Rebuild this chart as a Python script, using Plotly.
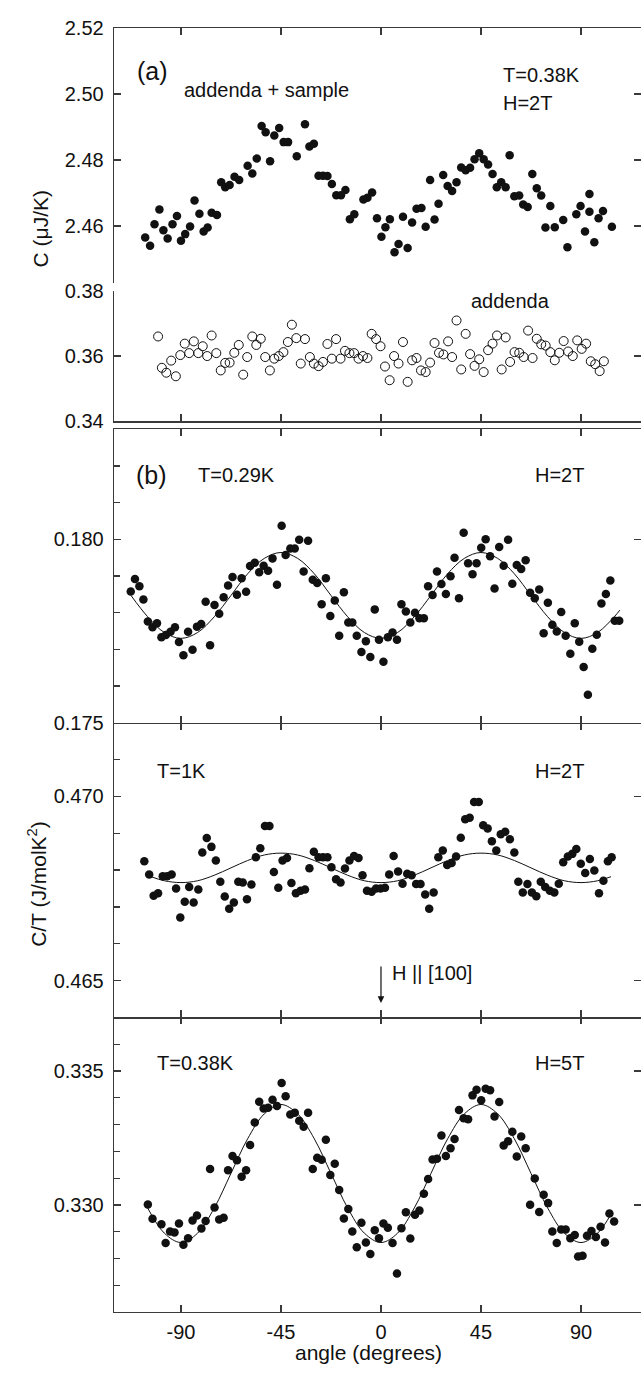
import plotly.graph_objects as go

W, H = 641, 1379

# ---------------- data ----------------
# (a) addenda + sample, T=0.38K, H=2T   [C in uJ/K]
a_sample_angle = [
    -106.1, -103.9, -101.9, -99.7, -97.9, -96.0, -93.8, -91.8, -90.0, -88.1,
    -85.9, -83.9, -81.7, -79.8, -78.0, -76.2, -73.8, -71.9, -70.1, -68.1,
    -65.9, -63.8, -60.0, -57.9, -55.9, -53.7, -51.9, -49.9, -48.0, -45.8,
    -43.8, -41.8, -37.9, -34.2, -32.2, -30.2, -28.1, -26.1, -24.1, -22.1,
    -20.1, -18.0, -16.0, -14.0, -12.0, -7.9, -6.1, -4.0, -1.8, 0.2,
    2.0, 4.0, 6.1, 7.9, 9.9, 12.0, 14.0, 16.0, 18.2, 20.1,
    22.1, 24.1, 25.9, 28.0, 30.0, 32.0, 34.0, 36.1, 38.1, 40.1,
    42.1, 44.2, 46.2, 48.2, 50.2, 52.1, 54.1, 56.1, 57.9, 60.0,
    62.2, 64.0, 66.0, 68.1, 70.1, 72.1, 74.0, 76.2, 78.2, 82.0,
    83.9, 87.9, 89.8, 91.8, 93.8, 93.8, 96.0, 97.9, 99.9, 103.9]
a_sample_c = [
    2.4565, 2.4540, 2.4605, 2.4650, 2.4587, 2.4562, 2.4605, 2.4630, 2.4555, 2.4575,
    2.4598, 2.4677, 2.4637, 2.4583, 2.4595, 2.4640, 2.4633, 2.4732, 2.4717, 2.4724,
    2.4749, 2.4739, 2.4782, 2.4759, 2.4804, 2.4903, 2.4884, 2.4796, 2.4874, 2.4897,
    2.4854, 2.4854, 2.4811, 2.4908, 2.4841, 2.4849, 2.4752, 2.4752, 2.4751, 2.4727,
    2.4693, 2.4693, 2.4709, 2.4620, 2.4635, 2.4680, 2.4685, 2.4701, 2.4623, 2.4567,
    2.4596, 2.4620, 2.4520, 2.4545, 2.4628, 2.4533, 2.4610, 2.4652, 2.4654, 2.4597,
    2.4739, 2.4619, 2.4667, 2.4754, 2.4721, 2.4706, 2.4732, 2.4777, 2.4769, 2.4776,
    2.4802, 2.4820, 2.4802, 2.4786, 2.4757, 2.4717, 2.4732, 2.4717, 2.4814, 2.4690,
    2.4692, 2.4665, 2.4657, 2.4757, 2.4714, 2.4692, 2.4595, 2.4660, 2.4596, 2.4618,
    2.4535, 2.4635, 2.4660, 2.4583, 2.4697, 2.4643, 2.4550, 2.4623, 2.4645, 2.4597]

# (a) addenda only
a_addenda_angle = [
    -100.3, -98.6, -96.6, -94.4, -92.3, -90.3, -88.3, -86.3, -84.2, -82.2,
    -80.2, -78.2, -76.2, -74.1, -72.1, -70.1, -68.1, -66.0, -64.0, -62.0,
    -60.2, -57.9, -56.1, -54.1, -52.1, -50.0, -48.0, -46.0, -43.9, -41.9,
    -40.1, -38.1, -36.1, -34.2, -32.0, -30.2, -28.1, -26.1, -24.1, -22.1,
    -20.2, -18.2, -16.2, -14.2, -12.1, -10.1, -8.1, -6.1, -4.2, -2.2,
    -0.2, 1.8, 3.9, 5.9, 7.9, 9.9, 12.0, 14.0, 16.0, 18.0,
    20.1, 22.1, 24.1, 26.1, 28.1, 30.2, 32.0, 34.0, 36.1, 38.1,
    40.1, 42.1, 44.2, 46.2, 48.2, 50.2, 52.2, 54.3, 56.1, 58.1,
    60.1, 62.2, 64.2, 66.2, 68.2, 70.1, 72.1, 74.1, 76.2, 78.2,
    80.2, 82.2, 84.2, 86.3, 88.3, 90.3, 92.3, 94.4, 96.4, 98.4,
    100.3]
a_addenda_c = [
    0.3660, 0.3564, 0.3549, 0.3586, 0.3538, 0.3603, 0.3638, 0.3609, 0.3645, 0.3609,
    0.3630, 0.3600, 0.3663, 0.3609, 0.3556, 0.3579, 0.3580, 0.3610, 0.3634, 0.3543,
    0.3597, 0.3660, 0.3634, 0.3653, 0.3597, 0.3556, 0.3592, 0.3600, 0.3612, 0.3643,
    0.3696, 0.3655, 0.3577, 0.3652, 0.3597, 0.3577, 0.3569, 0.3582, 0.3637, 0.3592,
    0.3652, 0.3592, 0.3616, 0.3609, 0.3609, 0.3592, 0.3600, 0.3594, 0.3668, 0.3652,
    0.3630, 0.3568, 0.3526, 0.3600, 0.3577, 0.3643, 0.3521, 0.3587, 0.3594, 0.3556,
    0.3551, 0.3580, 0.3640, 0.3610, 0.3605, 0.3645, 0.3597, 0.3709, 0.3559, 0.3668,
    0.3606, 0.3570, 0.3590, 0.3551, 0.3618, 0.3638, 0.3663, 0.3559, 0.3657, 0.3582,
    0.3612, 0.3610, 0.3597, 0.3678, 0.3594, 0.3653, 0.3636, 0.3632, 0.3612, 0.3587,
    0.3610, 0.3646, 0.3614, 0.3600, 0.3648, 0.3622, 0.3638, 0.3584, 0.3575, 0.3554,
    0.3584]

# (b) T=0.29K, H=2T   [C/T in J/molK^2]
b1_angle = [
    -112.6, -110.7, -108.7, -106.9, -104.9, -102.8, -100.8, -98.8, -96.8, -94.7,
    -92.7, -90.9, -88.9, -86.8, -84.8, -82.8, -80.9, -78.9, -76.9, -74.9,
    -72.8, -70.8, -68.8, -66.8, -64.8, -62.7, -60.7, -58.9, -56.8, -54.8,
    -52.8, -50.8, -48.8, -46.8, -44.7, -42.9, -40.8, -38.8, -36.8, -34.8,
    -32.8, -30.7, -28.7, -26.7, -24.8, -22.8, -20.8, -18.8, -16.7, -14.7,
    -12.9, -10.9, -8.8, -6.8, -4.8, -2.8, -0.9, 1.1, 3.1, 5.2,
    7.2, 9.2, 11.2, 13.2, 15.3, 17.3, 19.3, 21.2, 23.2, 25.2,
    27.2, 29.2, 31.3, 33.1, 35.1, 37.2, 39.2, 41.2, 43.0, 45.1,
    47.1, 49.1, 51.1, 53.2, 55.2, 57.2, 59.1, 61.1, 63.1, 65.1,
    67.1, 69.2, 71.2, 73.2, 75.1, 77.1, 79.1, 81.1, 83.1, 85.2,
    87.2, 89.2, 91.2, 93.1, 95.1, 97.1, 99.2, 101.2, 103.2, 105.2,
    107.2]
b1_ct = [
    0.17858, 0.17892, 0.17872, 0.17836, 0.17776, 0.17760, 0.17771, 0.17733, 0.17739, 0.17748,
    0.17760, 0.17720, 0.17684, 0.17748, 0.17699, 0.17762, 0.17769, 0.17830, 0.17711, 0.17821,
    0.17797, 0.17842, 0.17874, 0.17897, 0.17849, 0.17894, 0.17857, 0.17927, 0.17936, 0.17910,
    0.17928, 0.17914, 0.17948, 0.17876, 0.18037, 0.17957, 0.17975, 0.17975, 0.17999, 0.17912,
    0.17996, 0.17890, 0.17881, 0.17823, 0.17894, 0.17791, 0.17833, 0.17737, 0.17856, 0.17773,
    0.17773, 0.17737, 0.17693, 0.17722, 0.17679, 0.17809, 0.17726, 0.17666, 0.17733, 0.17746,
    0.17726, 0.17823, 0.17803, 0.17773, 0.17800, 0.17785, 0.17785, 0.17872, 0.17848, 0.17912,
    0.17878, 0.17851, 0.17899, 0.17950, 0.17839, 0.18018, 0.17935, 0.17905, 0.17935, 0.17977,
    0.18000, 0.17954, 0.17866, 0.17979, 0.17928, 0.17999, 0.17879, 0.17930, 0.17919, 0.17943,
    0.17854, 0.17839, 0.17863, 0.17744, 0.17827, 0.17767, 0.17749, 0.17802, 0.17737, 0.17688,
    0.17771, 0.17721, 0.17652, 0.17576, 0.17702, 0.17740, 0.17825, 0.17851, 0.17888, 0.17778,
    0.17778]
b1_fit_angle = [
    -112.5, -105, -97.5, -90, -82.5, -75, -67.5, -60, -52.5, -45,
    -37.5, -30, -22.5, -15, -7.5, 0, 7.5, 15, 22.5, 30,
    37.5, 45, 52.5, 60, 67.5, 75, 82.5, 90, 97.5, 105, 107.5]
b1_fit_ct = [
    0.17847, 0.17789, 0.17746, 0.17730, 0.17746, 0.17789, 0.17847, 0.17906, 0.17948, 0.17964,
    0.17948, 0.17906, 0.17847, 0.17789, 0.17746, 0.17730, 0.17746, 0.17789, 0.17847, 0.17906,
    0.17948, 0.17964, 0.17948, 0.17906, 0.17847, 0.17789, 0.17746, 0.17730, 0.17746, 0.17789,
    0.17807]

# T=1K, H=2T
b2_angle = [
    -106.5, -104.3, -102.3, -100.3, -98.2, -96.2, -94.2, -92.2, -90.3, -88.3,
    -86.3, -84.3, -82.2, -80.4, -78.4, -76.3, -74.3, -72.3, -70.3, -68.3,
    -66.2, -64.2, -62.2, -60.3, -58.3, -56.3, -54.3, -52.2, -50.2, -48.2,
    -46.2, -44.3, -42.3, -40.3, -38.3, -36.2, -34.2, -32.2, -30.2, -28.1,
    -26.1, -24.1, -22.3, -20.2, -18.2, -16.2, -14.2, -12.1, -10.1, -8.3,
    -6.3, -4.2, -2.2, -0.2, 1.8, 3.7, 5.7, 7.7, 9.7, 11.8,
    13.8, 15.8, 17.8, 19.9, 21.7, 23.7, 25.8, 27.8, 29.8, 31.8,
    33.8, 35.9, 37.9, 39.9, 41.9, 44.0, 46.0, 48.0, 49.9, 51.9,
    53.9, 55.9, 58.0, 60.0, 61.8, 63.8, 65.9, 67.9, 69.9, 71.9,
    73.9, 76.0, 78.0, 80.0, 82.0, 84.1, 86.1, 87.9, 89.9, 91.9,
    94.0, 96.0, 98.1, 100.1, 102.1, 103.8]
b2_ct = [
    0.46824, 0.46788, 0.46730, 0.46737, 0.46783, 0.46783, 0.46788, 0.46750, 0.46671, 0.46714,
    0.46754, 0.46712, 0.46747, 0.46848, 0.46887, 0.46863, 0.46826, 0.46768, 0.46728, 0.46695,
    0.46712, 0.46768, 0.46766, 0.46721, 0.46761, 0.46835, 0.46859, 0.46920, 0.46920, 0.46795,
    0.46752, 0.46826, 0.46833, 0.46765, 0.46737, 0.46744, 0.46747, 0.46805, 0.46850, 0.46835,
    0.46835, 0.46835, 0.46808, 0.46775, 0.46766, 0.46804, 0.46826, 0.46838, 0.46833, 0.46786,
    0.46744, 0.46741, 0.46750, 0.46750, 0.46752, 0.46788, 0.46838, 0.46796, 0.46763, 0.46790,
    0.46786, 0.46762, 0.46762, 0.46734, 0.46695, 0.46739, 0.46835, 0.46853, 0.46814, 0.46819,
    0.46837, 0.46888, 0.46938, 0.46942, 0.46985, 0.46985, 0.46922, 0.46913, 0.46878, 0.46853,
    0.46897, 0.46904, 0.46884, 0.46848, 0.46768, 0.46739, 0.46762, 0.46739, 0.46729, 0.46768,
    0.46754, 0.46744, 0.46739, 0.46763, 0.46821, 0.46837, 0.46844, 0.46857, 0.46817, 0.46792,
    0.46830, 0.46799, 0.46737, 0.46771, 0.46824, 0.46835]
b2_fit_angle = [
    -103.5, -97.5, -90, -82.5, -75, -67.5, -60, -52.5, -45, -37.5,
    -30, -22.5, -15, -7.5, 0, 7.5, 15, 22.5, 30, 37.5,
    45, 52.5, 60, 67.5, 75, 82.5, 90, 97.5, 103.5]
b2_fit_ct = [
    0.46782, 0.46771, 0.46766, 0.46771, 0.46786, 0.46806, 0.46826, 0.46841, 0.46846, 0.46841,
    0.46826, 0.46806, 0.46786, 0.46771, 0.46766, 0.46771, 0.46786, 0.46806, 0.46826, 0.46841,
    0.46846, 0.46841, 0.46826, 0.46806, 0.46786, 0.46771, 0.46766, 0.46771, 0.46782]

# T=0.38K, H=5T
b3_angle = [
    -104.9, -102.8, -98.8, -96.9, -94.9, -92.9, -90.9, -88.9, -86.8, -84.8,
    -82.8, -80.8, -78.9, -76.9, -74.9, -72.8, -70.8, -68.8, -66.8, -64.8,
    -62.7, -60.7, -58.9, -56.8, -54.8, -52.8, -50.8, -48.8, -46.8, -44.7,
    -42.9, -40.8, -38.8, -36.8, -34.8, -32.8, -30.7, -28.7, -26.7, -24.8,
    -22.8, -20.8, -18.8, -16.7, -14.7, -12.9, -10.9, -8.8, -6.8, -4.8,
    -2.8, -0.9, 1.1, 3.1, 5.2, 7.2, 9.2, 11.2, 13.2, 15.3,
    17.3, 19.3, 21.2, 23.2, 25.2, 27.2, 29.2, 31.3, 33.1, 35.1,
    37.2, 39.2, 41.2, 43.0, 45.1, 47.1, 49.1, 51.1, 53.2, 55.2,
    57.2, 59.1, 61.1, 63.1, 65.1, 67.1, 69.2, 71.2, 73.2, 75.2,
    77.1, 79.1, 81.1, 83.1, 85.2, 87.2, 88.7, 90.7, 92.7, 94.7,
    96.7, 98.8, 100.8, 102.8, 104.9]
b3_ct = [
    0.33002, 0.32949, 0.32928, 0.32858, 0.32901, 0.32897, 0.32931, 0.32852, 0.32876, 0.32942,
    0.32961, 0.32912, 0.32940, 0.33134, 0.32991, 0.32946, 0.32952, 0.33130, 0.33183, 0.33167,
    0.33105, 0.33130, 0.33224, 0.33308, 0.33385, 0.33360, 0.33363, 0.33393, 0.33369, 0.33455,
    0.33406, 0.33338, 0.33344, 0.33314, 0.33292, 0.33344, 0.33134, 0.33176, 0.33169, 0.33243,
    0.33112, 0.33154, 0.33056, 0.32950, 0.32985, 0.32901, 0.32842, 0.32934, 0.32860, 0.32817,
    0.32906, 0.32876, 0.32931, 0.32915, 0.32858, 0.32744, 0.32913, 0.32973, 0.32875, 0.32964,
    0.32979, 0.33042, 0.33097, 0.33170, 0.33173, 0.33259, 0.33183, 0.33212, 0.33246, 0.33354,
    0.33324, 0.33320, 0.33409, 0.33430, 0.33391, 0.33434, 0.33428, 0.33330, 0.33384, 0.33222,
    0.33238, 0.33273, 0.33181, 0.33256, 0.33212, 0.33001, 0.33099, 0.32974, 0.33038, 0.33007,
    0.32901, 0.32858, 0.32909, 0.32909, 0.32876, 0.32888, 0.32808, 0.32811, 0.32885, 0.32903,
    0.32881, 0.32919, 0.32860, 0.32968, 0.32938]
b3_fit_angle = [
    -105, -97.5, -90, -82.5, -75, -67.5, -60, -52.5, -45, -37.5,
    -30, -22.5, -15, -7.5, 0, 7.5, 15, 22.5, 30, 37.5,
    45, 52.5, 60, 67.5, 75, 82.5, 90, 97.5, 103.5]
b3_fit_ct = [
    0.32989, 0.32895, 0.32860, 0.32895, 0.32989, 0.33118, 0.33247, 0.33340, 0.33375, 0.33340,
    0.33247, 0.33118, 0.32989, 0.32895, 0.32860, 0.32895, 0.32989, 0.33118, 0.33247, 0.33340,
    0.33375, 0.33340, 0.33247, 0.33118, 0.32989, 0.32895, 0.32860, 0.32895, 0.32966]

x_tick_vals = [-90, -45, 0, 45, 90]
x_tick_text = ["-90", "-45", "0", "45", "90"]

# ---------------- styling / layout ----------------
FONT = "Liberation Sans, Arial, Helvetica, sans-serif"
INK = "#111111"
AX = "#3a3a3a"
TICKFONT = dict(family=FONT, size=20, color=INK)


def px(x):
    return x / W


def py(y):
    return 1 - y / H


X_RANGE = [-120, 117]
X_DOMAIN = [px(114.3), 1.0]

fig = go.Figure()

fill = dict(color=INK, size=8.5, line=dict(width=0))
fig.add_trace(go.Scatter(x=a_sample_angle, y=a_sample_c, mode="markers",
                         marker=fill, xaxis="x", yaxis="y", showlegend=False))
fig.add_trace(go.Scatter(x=a_addenda_angle, y=a_addenda_c, mode="markers",
                         marker=dict(symbol="circle-open", color=INK, size=9,
                                     line=dict(width=1, color=INK)),
                         xaxis="x2", yaxis="y2", showlegend=False))
panels = [
    (b1_angle, b1_ct, b1_fit_angle, b1_fit_ct, "x3", "y3"),
    (b2_angle, b2_ct, b2_fit_angle, b2_fit_ct, "x4", "y4"),
    (b3_angle, b3_ct, b3_fit_angle, b3_fit_ct, "x5", "y5"),
]
for xs, ys, fx, fy, xa, ya in panels:
    fig.add_trace(go.Scatter(x=fx, y=fy, mode="lines", line=dict(color=INK, width=1, shape="spline"),
                             xaxis=xa, yaxis=ya, showlegend=False, hoverinfo="skip"))
    fig.add_trace(go.Scatter(x=xs, y=ys, mode="markers", marker=fill,
                             xaxis=xa, yaxis=ya, showlegend=False))
# carriers for the extra tick-only axes (right side, and top of the lower b panels)
for xa, ya in (("x", "y9"), ("x2", "y10"), ("x3", "y6"), ("x4", "y7"), ("x5", "y8"),
               ("x6", "y4"), ("x7", "y5")):
    fig.add_trace(go.Scatter(x=[], y=[], xaxis=xa, yaxis=ya, showlegend=False))


def xax(anchor, side="bottom", mirror=False, labels=False):
    return dict(domain=X_DOMAIN, range=X_RANGE, anchor=anchor, side=side,
                showline=True, linecolor=AX, linewidth=1.2, mirror=mirror,
                tickmode="array", tickvals=x_tick_vals, ticktext=x_tick_text,
                ticks="inside", ticklen=7, tickwidth=1.3, tickcolor=AX,
                showticklabels=labels, tickfont=TICKFONT, ticklabelstandoff=2,
                showgrid=False, zeroline=False, fixedrange=True)


def xtop(over, anchor):
    # tick marks only, along the top edge of a panel whose top line is drawn by the panel above
    return dict(overlaying=over, anchor=anchor, side="top", range=X_RANGE,
                tickmode="array", tickvals=x_tick_vals,
                ticks="inside", ticklen=7, tickwidth=1.3, tickcolor=AX,
                showticklabels=False, showline=False, showgrid=False,
                zeroline=False, fixedrange=True)


def yax(top, bottom, rng, tick0, dtick, fmt, anchor, minor=False):
    d = dict(domain=[py(bottom), py(top)], range=rng, anchor=anchor,
             showline=True, linecolor=AX, linewidth=1.6, mirror=False,
             tickmode="linear", tick0=tick0, dtick=dtick, tickformat=fmt,
             ticks="inside", ticklen=7, tickwidth=1.3, tickcolor=AX,
             tickfont=TICKFONT, ticklabelstandoff=5,
             showgrid=False, zeroline=False, fixedrange=True)
    if minor:
        d["minor"] = dict(tickmode="linear", tick0=tick0, dtick=dtick / 5,
                          ticks="inside", ticklen=6, tickwidth=1.3, tickcolor=AX,
                          showgrid=False)
    return d


def yright(over, anchor, rng, tick0, dtick):
    return dict(overlaying=over, side="right", anchor=anchor, range=rng,
                tickmode="linear", tick0=tick0, dtick=dtick,
                ticks="inside", ticklen=7, tickwidth=1.3, tickcolor=AX,
                showticklabels=False, showline=False, showgrid=False,
                zeroline=False, fixedrange=True)


A1_RANGE = [2.4428, 2.52]
A2_RANGE = [0.34, 0.38]
B1_RANGE = [0.175, 0.183]
B2_RANGE = [0.464, 0.472]
B3_RANGE = [0.326, 0.337]


def label(text, x, y, anchor="left", size=20):
    return dict(text=text, x=px(x), y=py(y), xref="paper", yref="paper",
                xanchor=anchor, yanchor="middle", showarrow=False,
                font=dict(family=FONT, size=size, color=INK))


annotations = [
    label("(a)", 152, 61, "center", 25),
    label("addenda + sample", 182, 80),
    label("T=0.38K", 501, 65),
    label("H=2T", 501, 93),
    label("addenda", 510, 295, "center"),
    label("(b)", 151, 472, "center", 25),
    label("T=0.29K", 196, 472),
    label("H=2T", 533, 472),
    label("T=1K", 155, 772),
    label("H=2T", 533, 772),
    label("H || [100]", 390, 978),
    label("T=0.38K", 155, 1069),
    label("H=5T", 533, 1069),
    label("angle (degrees)", 368, 1363, "center", 21),
    dict(text="C (\u03bcJ/K)", x=px(40), y=py(222), xref="paper", yref="paper",
         textangle=-90, showarrow=False, xanchor="center", yanchor="middle",
         font=dict(family=FONT, size=21, color=INK)),
    dict(text="C/T (J/molK<sup>2</sup>)", x=px(37), y=py(887), xref="paper", yref="paper",
         textangle=-90, showarrow=False, xanchor="center", yanchor="middle",
         font=dict(family=FONT, size=21, color=INK)),
    dict(text="", x=0, y=py(1008), xref="x4", yref="paper", ax=0, ay=-38,
         showarrow=True, arrowhead=2, arrowsize=1.1, arrowwidth=1.2, arrowcolor=INK),
]

fig.update_layout(
    width=W, height=H,
    margin=dict(l=0, r=0, t=0, b=0),
    paper_bgcolor="white", plot_bgcolor="white",
    font=dict(family=FONT, size=20, color=INK),
    showlegend=False,
    xaxis=xax("y", side="top"),
    xaxis2=xax("y2", side="bottom"),
    xaxis3=xax("y3", mirror="ticks"),
    xaxis4=xax("y4"),
    xaxis5=xax("y5", labels=True),
    xaxis6=xtop("x4", "y4"),
    xaxis7=xtop("x5", "y5"),
    yaxis=yax(17.3, 276, A1_RANGE, 2.46, 0.02, ".2f", "x"),
    yaxis2=yax(284.3, 417, A2_RANGE, 0.34, 0.02, ".2f", "x2"),
    yaxis3=yax(425, 723.3, B1_RANGE, 0.175, 0.005, ".3f", "x3", minor=True),
    yaxis4=yax(723.3, 1022.7, B2_RANGE, 0.465, 0.005, ".3f", "x4", minor=True),
    yaxis5=yax(1022.7, 1322.3, B3_RANGE, 0.330, 0.005, ".3f", "x5", minor=True),
    yaxis6=yright("y3", "x3", B1_RANGE, 0.175, 0.005),
    yaxis7=yright("y4", "x4", B2_RANGE, 0.465, 0.005),
    yaxis8=yright("y5", "x5", B3_RANGE, 0.330, 0.005),
    yaxis9=yright("y", "x", A1_RANGE, 2.46, 0.02),
    yaxis10=yright("y2", "x2", A2_RANGE, 0.34, 0.02),
    annotations=annotations,
)

fig.write_html("out.html", include_plotlyjs=True,
               config={"displayModeBar": False, "staticPlot": True},
               post_script="document.body.style.margin='0';document.body.style.overflow='hidden';")
